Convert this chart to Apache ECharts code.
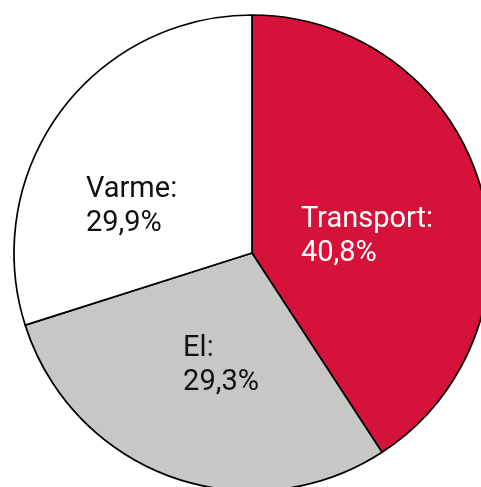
<!DOCTYPE html>
<html>
<head>
<meta charset="utf-8">
<script src="https://cdn.jsdelivr.net/npm/echarts@6/dist/echarts.min.js"></script>
<style>
html,body{margin:0;padding:0;background:#fff;}
#container{width:481px;height:487px;}
</style>
</head>
<body>
<div id="container"></div>
<script>
var names = ['Transport', 'El', 'Varme'];
var shares = [40.8, 29.3, 29.9];
var colors = ['#d5123a', '#c8c7c6', '#ffffff'];
var textColors = ['#ffffff', '#111111', '#111111'];
var labelOffsets = [[-2, 19], [10, -2], [-22, 26]];

var dom = document.getElementById('container');
var myChart = echarts.init(dom);
var pieData = [];
for (var i = 0; i < names.length; i++) {
	pieData.push({
		value: shares[i],
		name: names[i],
		itemStyle: {color: colors[i]},
		label: {color: textColors[i], offset: labelOffsets[i]}
	});
}
var option = {
	animation: false,
	series: [{
		type: 'pie',
		center: [252, 253],
		radius: [0, 238],
		startAngle: 90,
		clockwise: true,
		silent: true,
		itemStyle: {borderColor: '#000', borderWidth: 1.7},
		label: {
			show: true,
			position: 'inside',
			fontFamily: 'Roboto',
			fontSize: 29,
			lineHeight: 34,
			formatter: function (p) {
				return '{a|' + p.name + ':}\n{a|' + p.value.toFixed(1).replace('.', ',') + '%}';
			},
			rich: {a: {align: 'left', fontFamily: 'Roboto', fontSize: 29, lineHeight: 34}}
		},
		labelLine: {show: false},
		data: pieData
	}]
};
myChart.setOption(option);
</script>
</body>
</html>
